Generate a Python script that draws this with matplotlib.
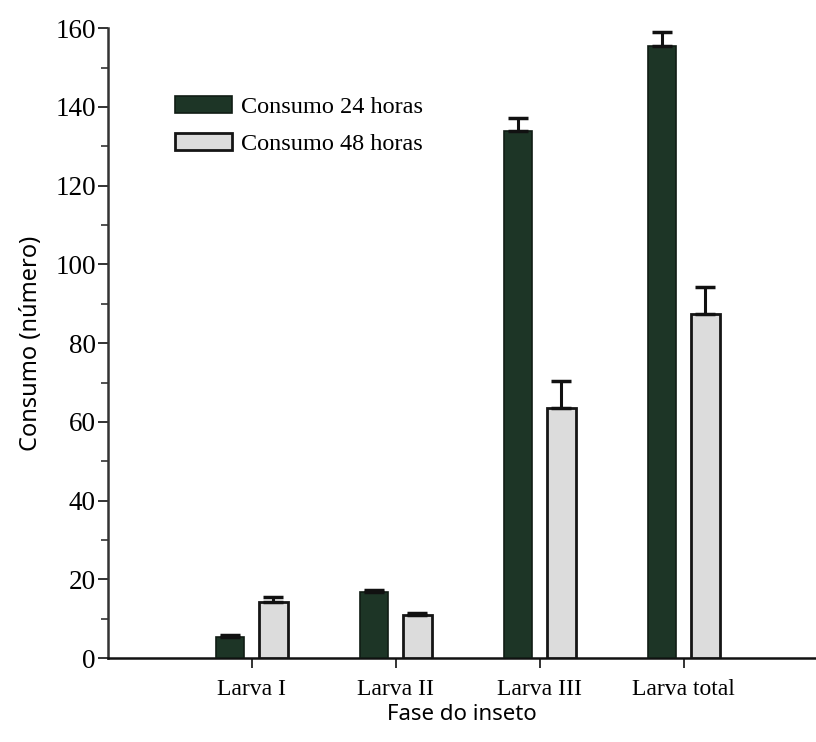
import numpy as np
import matplotlib
matplotlib.use('Agg')
import matplotlib.pyplot as plt
from matplotlib.ticker import MultipleLocator

# data
fases = ['Larva I', 'Larva II', 'Larva III', 'Larva total']
consumo_24 = [5.3, 16.8, 134.0, 155.5]
erro_24 = [0.6, 0.5, 3.3, 3.6]
consumo_48 = [14.3, 10.9, 63.5, 87.5]
erro_48 = [1.3, 0.5, 6.8, 6.8]

serif = ['Liberation Serif', 'DejaVu Serif']
sans = ['Noto Sans', 'DejaVu Sans']

fig = plt.figure(figsize=(8.16, 7.42), dpi=100)
ax = fig.add_axes([0.132, 0.113, 0.868, 0.849])

x = np.arange(len(fases))
w = 0.2
d = 0.15

ax.bar(x - d, consumo_24, w, color='#1d3526', edgecolor='#101c14', linewidth=1.2,
       yerr=[np.zeros(len(erro_24)), erro_24],
       error_kw=dict(ecolor='#111111', elinewidth=2.2, capsize=7, capthick=2.5),
       label='Consumo 24 horas', zorder=3)
ax.bar(x + d, consumo_48, w, color='#dcdcdc', edgecolor='#151515', linewidth=2,
       yerr=[np.zeros(len(erro_48)), erro_48],
       error_kw=dict(ecolor='#111111', elinewidth=2.2, capsize=7, capthick=2.5),
       label='Consumo 48 horas', zorder=3)

ax.set_xlim(-1.0, 3.92)
ax.set_ylim(0, 160)
ax.set_xticks(x)
ax.set_xticklabels(fases, family=serif, fontsize=17)
ax.yaxis.set_major_locator(MultipleLocator(20))
ax.yaxis.set_minor_locator(MultipleLocator(10))
for lab in ax.get_yticklabels():
    lab.set_family(serif)
    lab.set_fontsize(19.5)

ax.spines['top'].set_visible(False)
ax.spines['right'].set_visible(False)
ax.spines['left'].set_linewidth(1.8)
ax.spines['bottom'].set_linewidth(1.8)
ax.spines['left'].set_color('#333333')
ax.spines['bottom'].set_color('#111111')
ax.tick_params(axis='x', which='major', length=7, width=1.4, color='#333333', pad=8)
ax.tick_params(axis='y', which='major', length=7, width=1.4, color='#333333', pad=1.5)
ax.tick_params(axis='y', which='minor', length=5, width=1.2, color='#333333')

ax.set_ylabel('Consumo (número)', family=sans, fontsize=17, labelpad=9)
ax.set_xlabel('Fase do inseto', family=sans, fontsize=16, labelpad=3)

leg = ax.legend(loc='upper left', bbox_to_anchor=(0.095, 0.893), frameon=False,
                prop={'family': serif, 'size': 17.5}, handlelength=2.35, handleheight=0.7,
                labelspacing=0.62, handletextpad=0.35, borderpad=0, borderaxespad=0)

fig.savefig('out.png', dpi=100)
